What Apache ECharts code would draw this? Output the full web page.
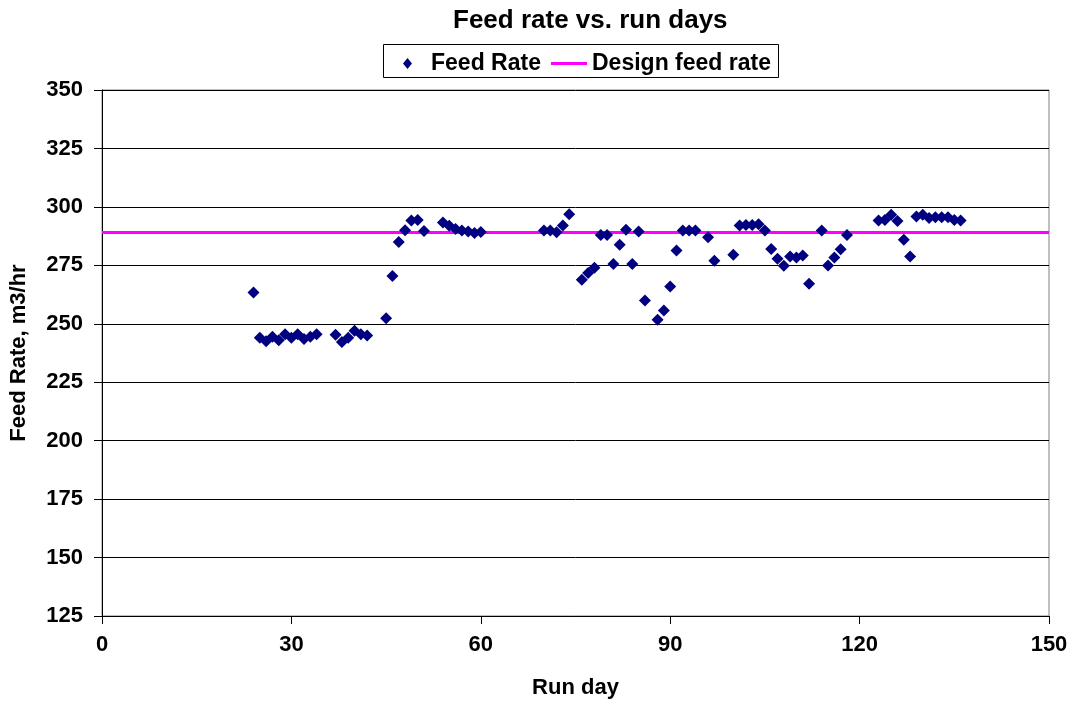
<!DOCTYPE html>
<html>
<head>
<meta charset="utf-8">
<script src="https://cdn.jsdelivr.net/npm/echarts@6/dist/echarts.min.js"></script>
<style>
  html, body { margin: 0; padding: 0; background: #fff; }
  #chart { width: 1073px; height: 704px; }
</style>
</head>
<body>
<div id="chart"></div>
<script>
const runDays = [24,25,26,27,28,29,30,31,32,33,34,37,38,39,40,41,42,45,46,47,48,49,50,51,54,55,56,57,58,59,60,
  70,71,72,73,74,76,77,78,79,80,81,82,83,84,85,86,88,89,90,91,92,93,94,96,97,
  100,101,102,103,104,105,106,107,108,109,110,111,112,114,115,116,117,118,
  123,124,125,126,127,128,129,130,131,132,133,134,135,136];
const feedRates = [263.4,244,242.5,244.5,243,245.5,244,245.5,243.5,244.5,245.5,245.3,242.2,244,247,245.5,245,252.4,270.4,285,290,294.2,294.4,289.7,293.3,291.9,290.5,289.9,289.5,288.8,289.3,
  289.9,289.9,289.2,292,296.9,268.8,271.7,274,288,288,275.6,283.8,290.2,275.6,289.5,260,251.7,255.7,265.9,281.3,289.9,289.9,289.9,287,277,
  279.5,292,292.3,292.3,292.6,289.9,282,277.8,274.8,278.8,278.4,279.2,267.1,289.9,274.9,278.3,281.9,288,
  294.2,294.4,296.6,294,285.9,278.8,295.9,296.6,295.2,295.6,295.6,295.6,294.4,294.2];
const designRate = 289;
const designDays = [0, 150];
const xTicks = { min: 0, max: 150, step: 30 };
const yTicks = { min: 125, max: 350, step: 25 };
const seriesNames = ['Feed Rate', 'Design feed rate'];
const titleText = 'Feed rate vs. run days';
const xName = 'Run day';
const yName = 'Feed Rate, m3/hr';

const FONT = '"Liberation Sans", Arial, sans-serif';
const feedData = runDays.map((d, i) => [d, feedRates[i]]);
const designData = designDays.map(d => [d, designRate]);

const chart = echarts.init(document.getElementById('chart'), null, { renderer: 'canvas' });
chart.setOption({
  animation: false,
  backgroundColor: '#ffffff',
  title: {
    text: titleText,
    left: 453, top: 8, padding: 0,
    textStyle: { fontFamily: FONT, fontWeight: 'bold', fontSize: 26, color: '#000' }
  },
  graphic: [{
    type: 'rect', z: 0,
    shape: { x: 383.5, y: 44.5, width: 395, height: 33 },
    style: { fill: '#fff', stroke: '#000', lineWidth: 1 }
  }],
  legend: [{
    data: [{ name: seriesNames[0], icon: 'diamond', itemStyle: { color: '#000080', opacity: 1 } }],
    left: 403, top: 52, padding: 0,
    itemWidth: 9, itemHeight: 11,
    textStyle: { fontFamily: FONT, fontWeight: 'bold', fontSize: 23, color: '#000', padding: [0, 0, 0, 14] }
  }, {
    data: [{ name: seriesNames[1], icon: 'rect', itemStyle: { color: '#ff00ff' } }],
    left: 551, top: 52, padding: 0,
    itemWidth: 36, itemHeight: 3,
    textStyle: { fontFamily: FONT, fontWeight: 'bold', fontSize: 23, color: '#000' }
  }],
  grid: {
    left: 101, right: 24, top: 90, bottom: 86,
    show: true, borderColor: '#808080', borderWidth: 1, backgroundColor: 'transparent'
  },
  xAxis: {
    type: 'value', min: xTicks.min, max: xTicks.max, interval: xTicks.step,
    name: xName, nameLocation: 'middle', nameGap: 61,
    nameTextStyle: { fontFamily: FONT, fontWeight: 'bold', fontSize: 22, color: '#000' },
    axisLine: { show: true, lineStyle: { color: '#000', width: 1 } },
    axisTick: { show: true, length: 8, lineStyle: { color: '#000' } },
    axisLabel: { fontFamily: FONT, fontWeight: 'bold', fontSize: 22, color: '#000', margin: 18 },
    splitLine: { show: false }
  },
  yAxis: {
    type: 'value', min: yTicks.min, max: yTicks.max, interval: yTicks.step,
    name: yName, nameLocation: 'middle', nameGap: 72, nameRotate: 90,
    nameTextStyle: { fontFamily: FONT, fontWeight: 'bold', fontSize: 22, color: '#000' },
    axisLine: { show: true, lineStyle: { color: '#000', width: 1 } },
    axisTick: { show: true, length: 8, lineStyle: { color: '#000' } },
    axisLabel: { fontFamily: FONT, fontWeight: 'bold', fontSize: 22, color: '#000', margin: 19 },
    splitLine: { show: true, lineStyle: { color: '#000', width: 1 } }
  },
  series: [{
    name: seriesNames[0], type: 'scatter', data: feedData,
    symbol: 'diamond', symbolSize: [12, 12], z: 3,
    itemStyle: { color: '#000080', opacity: 1 }
  }, {
    name: seriesNames[1], type: 'line', data: designData,
    symbol: 'none', z: 2,
    lineStyle: { color: '#ff00ff', width: 3 },
    itemStyle: { color: '#ff00ff' }
  }]
});
</script>
</body>
</html>
